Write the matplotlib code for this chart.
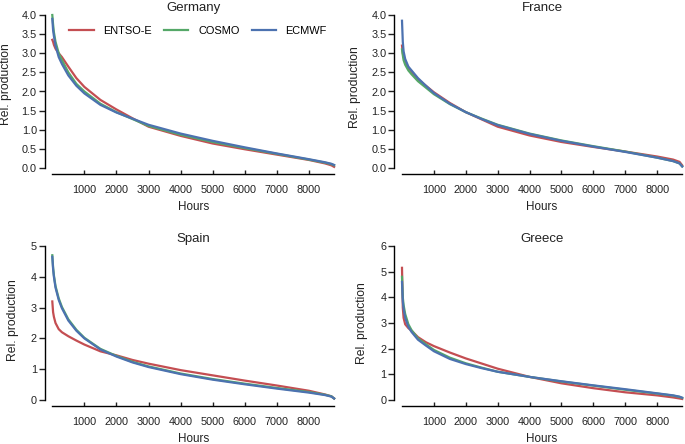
import matplotlib
matplotlib.use("Agg")
import matplotlib.pyplot as plt

plt.rcParams['font.family'] = ['Liberation Sans', 'DejaVu Sans']

series_names = ["ENTSO-E", "COSMO", "ECMWF"]
colors = ["#c44e52", "#55a868", "#4c72b0"]

hours = [0, 25, 50, 100, 200, 300, 500, 750, 1000, 1500, 2000, 2500, 3000, 4000,
         5000, 6000, 7000, 8000, 8500, 8700, 8784]

germany = {
    "ENTSO-E": [3.35, 3.3, 3.22, 3.12, 3.0, 2.9, 2.65, 2.35, 2.12, 1.78, 1.53, 1.3, 1.08, 0.84,
                0.64, 0.49, 0.35, 0.21, 0.12, 0.07, 0.03],
    "COSMO":   [4.0, 3.75, 3.55, 3.3, 3.0, 2.82, 2.5, 2.2, 2.0, 1.68, 1.46, 1.28, 1.1, 0.87,
                0.68, 0.52, 0.37, 0.22, 0.14, 0.1, 0.07],
    "ECMWF":   [3.9, 3.6, 3.45, 3.2, 2.9, 2.72, 2.42, 2.15, 1.95, 1.65, 1.45, 1.29, 1.13, 0.9,
                0.71, 0.54, 0.38, 0.23, 0.15, 0.11, 0.08],
}
france = {
    "ENTSO-E": [3.2, 3.0, 2.9, 2.78, 2.62, 2.52, 2.32, 2.15, 1.98, 1.7, 1.46, 1.27, 1.08, 0.85,
                0.68, 0.55, 0.43, 0.3, 0.22, 0.16, 0.07],
    "COSMO":   [3.1, 2.95, 2.82, 2.7, 2.55, 2.45, 2.27, 2.1, 1.93, 1.67, 1.46, 1.29, 1.13, 0.9,
                0.72, 0.57, 0.43, 0.27, 0.18, 0.12, 0.04],
    "ECMWF":   [3.85, 3.3, 3.05, 2.85, 2.65, 2.55, 2.35, 2.15, 1.96, 1.68, 1.46, 1.28, 1.12, 0.89,
                0.71, 0.56, 0.42, 0.27, 0.18, 0.12, 0.04],
}
spain = {
    "ENTSO-E": [3.2, 2.85, 2.7, 2.5, 2.3, 2.2, 2.07, 1.93, 1.8, 1.58, 1.45, 1.3, 1.18, 0.97,
                0.8, 0.63, 0.47, 0.3, 0.18, 0.12, 0.05],
    "COSMO":   [4.7, 4.3, 4.05, 3.7, 3.3, 3.02, 2.62, 2.28, 2.02, 1.66, 1.43, 1.24, 1.09, 0.86,
                0.68, 0.53, 0.39, 0.26, 0.17, 0.12, 0.05],
    "ECMWF":   [4.65, 4.25, 4.0, 3.65, 3.25, 2.98, 2.58, 2.25, 2.0, 1.64, 1.41, 1.22, 1.07, 0.84,
                0.66, 0.51, 0.37, 0.24, 0.16, 0.11, 0.05],
}
greece = {
    "ENTSO-E": [5.15, 3.6, 3.2, 2.95, 2.8, 2.7, 2.45, 2.25, 2.1, 1.85, 1.62, 1.42, 1.22, 0.9,
                0.65, 0.46, 0.3, 0.18, 0.1, 0.06, 0.04],
    "COSMO":   [4.8, 4.0, 3.7, 3.35, 2.95, 2.72, 2.4, 2.17, 1.95, 1.65, 1.43, 1.26, 1.1, 0.9,
                0.72, 0.56, 0.4, 0.25, 0.17, 0.12, 0.08],
    "ECMWF":   [4.6, 3.85, 3.55, 3.2, 2.85, 2.65, 2.35, 2.12, 1.9, 1.6, 1.4, 1.24, 1.1, 0.9,
                0.73, 0.57, 0.42, 0.26, 0.18, 0.13, 0.09],
}

panels = [
    ("Germany", germany, [0.0, 0.5, 1.0, 1.5, 2.0, 2.5, 3.0, 3.5, 4.0], "%.1f", 4.0),
    ("France", france, [0.0, 0.5, 1.0, 1.5, 2.0, 2.5, 3.0, 3.5, 4.0], "%.1f", 4.0),
    ("Spain", spain, [0, 1, 2, 3, 4, 5], "%d", 5),
    ("Greece", greece, [0, 1, 2, 3, 4, 5, 6], "%d", 6),
]
xticks = [1000, 2000, 3000, 4000, 5000, 6000, 7000, 8000]

W, H = 685, 444
fig = plt.figure(figsize=(W / 100, H / 100), dpi=100)

# pixel boxes: (x0, x1, y_top, y_bottom)
boxes = [(52.3, 334.1, 15, 168), (402, 682.2, 15, 168),
         (52.3, 334.1, 246, 400), (402, 682.2, 246, 400)]
ylab_x = [-0.142, -0.145, -0.118, -0.12]
ylab_y = [0.55, 0.53, 0.52, 0.5]
xlab_y = [-0.215, -0.215, -0.212, -0.212]

for i, (title, data, yt, fmt, ytop) in enumerate(panels):
    x0, x1, yt_px, yb_px = boxes[i]
    ax = fig.add_axes([x0 / W, 1 - yb_px / H, (x1 - x0) / W, (yb_px - yt_px) / H])
    for name, c in zip(series_names, colors):
        ax.plot(hours, data[name], color=c, lw=1.6, label=name, clip_on=False,
                solid_joinstyle='round')
    ax.set_xlim(0, 8784)
    ax.set_ylim(0, ytop)
    ax.set_xticks(xticks)
    ax.set_xticklabels([str(t) for t in xticks])
    ax.set_yticks(yt)
    ax.set_yticklabels([fmt % v for v in yt])
    for s in ["top", "right"]:
        ax.spines[s].set_visible(False)
    ax.spines["left"].set_position(("outward", 5.6))
    ax.spines["bottom"].set_position(("outward", 4.3))
    ax.spines["left"].set_linewidth(1.0)
    ax.spines["bottom"].set_linewidth(1.0)
    ax.tick_params(axis='x', direction='in', length=3.2, width=1.0, pad=8, labelsize=7.8,
                   colors='#222222')
    ax.tick_params(axis='y', direction='out', length=4.0, width=1.0, pad=1.5, labelsize=7.8,
                   colors='#222222')
    ax.set_title(title, fontsize=9.5, pad=3, color='#222222')
    ax.set_ylabel("Rel. production", fontsize=8.7, color='#222222')
    ax.yaxis.set_label_coords(ylab_x[i], ylab_y[i])
    ax.set_xlabel("Hours", fontsize=8.4, color='#222222')
    ax.xaxis.set_label_coords(0.5, xlab_y[i])
    ax.patch.set_alpha(0)
    if i == 0:
        ax.legend(loc='upper left', bbox_to_anchor=(0.045, 0.96), ncol=3, frameon=False,
                  fontsize=7.9, handlelength=2.2, handletextpad=0.9, columnspacing=1.1,
                  borderaxespad=0)

fig.savefig("out.png", dpi=100)
